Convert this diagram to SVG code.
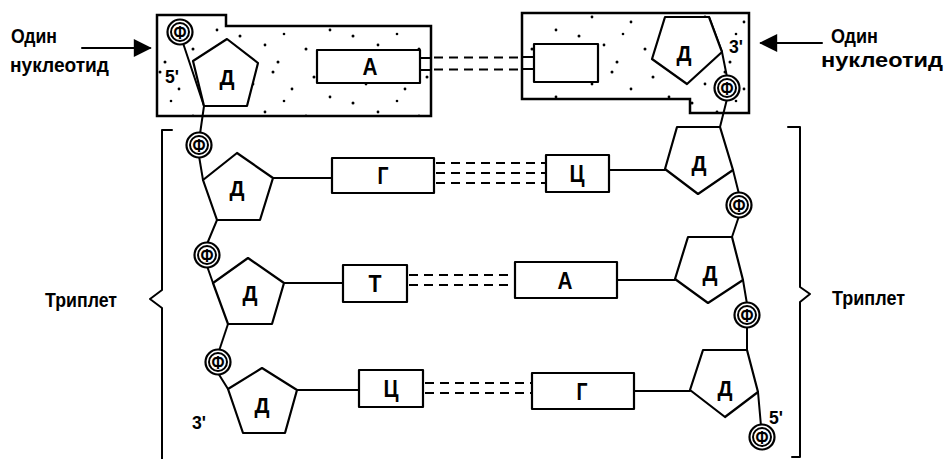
<svg xmlns="http://www.w3.org/2000/svg" width="946" height="459" viewBox="0 0 946 459">
<style>
.ln{fill:none;stroke:#000;stroke-width:2;stroke-linecap:round;stroke-linejoin:round}
.box{stroke:#000;stroke-width:2.5;stroke-linejoin:miter}
.shape{fill:#fff;stroke:#000;stroke-width:2.2;stroke-linejoin:round}
.hb{fill:none;stroke:#000;stroke-width:2.2;stroke-dasharray:9 6}
.t{font-family:"Liberation Sans",Arial,sans-serif;font-weight:bold;fill:#000}
.lbl{font-size:21px}
.d{font-size:22px;text-anchor:middle}
.big{font-size:23px;text-anchor:middle}
.ph{font-size:18px;text-anchor:middle}
.prime{font-size:19px}
</style>
<defs>
<pattern id="dots" width="113" height="67" patternUnits="userSpaceOnUse">
<rect width="113" height="67" fill="#fff"/>
<g fill="#000">
<circle cx="6" cy="8" r="1.5"/><circle cx="27" cy="17" r="1.4"/><circle cx="47" cy="5" r="1.5"/>
<circle cx="66" cy="22" r="1.4"/><circle cx="88" cy="10" r="1.5"/><circle cx="104" cy="30" r="1.4"/>
<circle cx="14" cy="36" r="1.5"/><circle cx="39" cy="45" r="1.4"/><circle cx="58" cy="34" r="1.3"/>
<circle cx="80" cy="49" r="1.5"/><circle cx="99" cy="58" r="1.4"/><circle cx="21" cy="60" r="1.3"/>
<circle cx="52" cy="62" r="1.5"/>
</g>
</pattern>
<marker id="arr" viewBox="0 0 10 10" refX="9" refY="5" markerWidth="24" markerHeight="18" markerUnits="userSpaceOnUse" orient="auto">
<path d="M0,0 L10,5 L0,10 Z" fill="#000"/>
</marker>
</defs>
<rect width="946" height="459" fill="#fff"/>

<g id="box-left"><path class="box" fill="url(#dots)" d="M157,15 H226 V26 H431 V116 H157 Z"/></g>
<g id="box-right"><path class="box" fill="url(#dots)" d="M522,13 H749 V113 H690 V99 H522 Z"/></g>

<g id="connectors">
<path class="ln" d="M183,43 L204,106 L200,134"/>
<path class="ln" d="M199,156 L203,180"/>
<path class="ln" d="M217,220 L207,244"/>
<path class="ln" d="M207,266 L213,283"/>
<path class="ln" d="M228,324 L219,351"/>
<path class="ln" d="M218,373 L228,389"/>
<path class="ln" d="M709,17 L722,52 L727,77"/>
<path class="ln" d="M727,99 L720,127"/>
<path class="ln" d="M733,170 L739,194"/>
<path class="ln" d="M739,216 L732,237"/>
<path class="ln" d="M743,280 L747,304"/>
<path class="ln" d="M747,326 L747,350"/>
<path class="ln" d="M758,392 L761,426"/>
<path class="ln" d="M273,178 H332"/><path class="ln" d="M609,170 H665"/>
<path class="ln" d="M284,283 H343"/><path class="ln" d="M617,280 H675"/>
<path class="ln" d="M297,390 H359"/><path class="ln" d="M634,391 H690"/>
<path class="ln" d="M420,58 H431 M420,70 H431"/>
<path class="ln" d="M522,57 H534 M522,69 H534"/>
<path class="hb" d="M434,57.5 H521 M434,69.5 H521"/>
<path class="hb" d="M436,163 H546 M436,173 H546 M436,183 H546"/>
<path class="hb" d="M409,275 H515 M409,285 H515"/>
<path class="hb" d="M425,383 H532 M425,393 H532"/>
<path class="ln" d="M82,48 H150" marker-end="url(#arr)"/>
<path class="ln" d="M822,43 H761" marker-end="url(#arr)"/>
<path class="ln" d="M172,130 H162 V290 L150,299 L162,308 V459"/>
<path class="ln" d="M788,127 H800 V287 L810,294 L800,302 V457 H792"/>
</g>

<g id="sugar-top-left"><polygon class="shape" points="227,39 258,63 247,106 204,106 193,61"/><text class="t d" x="227" y="85" textLength="15" lengthAdjust="spacingAndGlyphs">Д</text></g>
<g id="sugar-l1"><polygon class="shape" points="237,153 273,178 260,220 217,220 203,180"/><text class="t d" x="237" y="196" textLength="15" lengthAdjust="spacingAndGlyphs">Д</text></g>
<g id="sugar-l2"><polygon class="shape" points="248,258 284,283 272,324 228,324 213,283"/><text class="t d" x="250" y="301" textLength="15" lengthAdjust="spacingAndGlyphs">Д</text></g>
<g id="sugar-l3"><polygon class="shape" points="262,368 297,390 285,433 243,433 228,389"/><text class="t d" x="262" y="413" textLength="15" lengthAdjust="spacingAndGlyphs">Д</text></g>
<g id="sugar-top-right"><polygon class="shape" points="665,17 709,17 722,52 687,84 652,59"/><text class="t d" x="684" y="61" textLength="15" lengthAdjust="spacingAndGlyphs">Д</text></g>
<g id="sugar-r1"><polygon class="shape" points="677,127 720,127 733,170 698,194 665,169"/><text class="t d" x="699" y="171" textLength="15" lengthAdjust="spacingAndGlyphs">Д</text></g>
<g id="sugar-r2"><polygon class="shape" points="688,237 732,237 743,280 708,303 675,279"/><text class="t d" x="710" y="281" textLength="15" lengthAdjust="spacingAndGlyphs">Д</text></g>
<g id="sugar-r3"><polygon class="shape" points="703,350 747,350 758,392 725,417 690,390"/><text class="t d" x="725" y="396" textLength="15" lengthAdjust="spacingAndGlyphs">Д</text></g>

<g id="base-A-top"><rect class="shape" x="317" y="50" width="103" height="33"/><text class="t big" x="370" y="75" textLength="15" lengthAdjust="spacingAndGlyphs">А</text></g>
<g id="base-top-right"><rect class="shape" x="534" y="44" width="64" height="38"/></g>
<g id="base-G1"><rect class="shape" x="332" y="158" width="102" height="35"/><text class="t big" x="383" y="184" textLength="11" lengthAdjust="spacingAndGlyphs">Г</text></g>
<g id="base-C1"><rect class="shape" x="546" y="155" width="63" height="37"/><text class="t big" x="577" y="182" textLength="15" lengthAdjust="spacingAndGlyphs">Ц</text></g>
<g id="base-T2"><rect class="shape" x="343" y="265" width="64" height="37"/><text class="t big" x="375" y="292" textLength="13" lengthAdjust="spacingAndGlyphs">Т</text></g>
<g id="base-A2"><rect class="shape" x="515" y="262" width="102" height="36"/><text class="t big" x="565" y="289" textLength="15" lengthAdjust="spacingAndGlyphs">А</text></g>
<g id="base-C3"><rect class="shape" x="359" y="370" width="64" height="37"/><text class="t big" x="391" y="397" textLength="15" lengthAdjust="spacingAndGlyphs">Ц</text></g>
<g id="base-G3"><rect class="shape" x="532" y="373" width="102" height="36"/><text class="t big" x="582" y="400" textLength="11" lengthAdjust="spacingAndGlyphs">Г</text></g>

<g id="phos-l0"><circle class="shape" cx="180" cy="32" r="12.5"/><circle class="ln" cx="180" cy="32" r="9"/><text class="t ph" x="180" y="38.5" textLength="13" lengthAdjust="spacingAndGlyphs">Ф</text></g>
<g id="phos-l1"><circle class="shape" cx="199" cy="145" r="12.5"/><circle class="ln" cx="199" cy="145" r="9"/><text class="t ph" x="199" y="151.5" textLength="13" lengthAdjust="spacingAndGlyphs">Ф</text></g>
<g id="phos-l2"><circle class="shape" cx="207" cy="255" r="12.5"/><circle class="ln" cx="207" cy="255" r="9"/><text class="t ph" x="207" y="261.5" textLength="13" lengthAdjust="spacingAndGlyphs">Ф</text></g>
<g id="phos-l3"><circle class="shape" cx="218" cy="362" r="12.5"/><circle class="ln" cx="218" cy="362" r="9"/><text class="t ph" x="218" y="368.5" textLength="13" lengthAdjust="spacingAndGlyphs">Ф</text></g>
<g id="phos-r0"><circle class="shape" cx="727" cy="88" r="12.5"/><circle class="ln" cx="727" cy="88" r="9"/><text class="t ph" x="727" y="94.5" textLength="13" lengthAdjust="spacingAndGlyphs">Ф</text></g>
<g id="phos-r1"><circle class="shape" cx="739" cy="205" r="12.5"/><circle class="ln" cx="739" cy="205" r="9"/><text class="t ph" x="739" y="211.5" textLength="13" lengthAdjust="spacingAndGlyphs">Ф</text></g>
<g id="phos-r2"><circle class="shape" cx="747" cy="315" r="12.5"/><circle class="ln" cx="747" cy="315" r="9"/><text class="t ph" x="747" y="321.5" textLength="13" lengthAdjust="spacingAndGlyphs">Ф</text></g>
<g id="phos-r3"><circle class="shape" cx="762" cy="437" r="12.5"/><circle class="ln" cx="762" cy="437" r="9"/><text class="t ph" x="762" y="443.5" textLength="13" lengthAdjust="spacingAndGlyphs">Ф</text></g>

<g id="label-5-top"><text class="t prime" x="165" y="83" textLength="14" lengthAdjust="spacingAndGlyphs">5'</text></g>
<g id="label-3-top"><text class="t prime" x="729" y="53" textLength="14" lengthAdjust="spacingAndGlyphs">3'</text></g>
<g id="label-3-bottom"><text class="t prime" x="192" y="429" textLength="14" lengthAdjust="spacingAndGlyphs">3'</text></g>
<g id="label-5-bottom"><text class="t prime" x="769" y="424" textLength="14" lengthAdjust="spacingAndGlyphs">5'</text></g>

<g id="label-nucleotide-left"><text class="t lbl" x="11" y="43" textLength="46" lengthAdjust="spacingAndGlyphs">Один</text><text class="t lbl" x="10" y="72" textLength="99" lengthAdjust="spacingAndGlyphs">нуклеотид</text></g>
<g id="label-nucleotide-right"><text class="t lbl" x="831" y="43" textLength="47" lengthAdjust="spacingAndGlyphs">Один</text><text class="t lbl" x="821" y="67" textLength="122" lengthAdjust="spacingAndGlyphs">нуклеотид</text></g>
<g id="label-triplet-left"><text class="t lbl" x="45" y="307" textLength="72" lengthAdjust="spacingAndGlyphs">Триплет</text></g>
<g id="label-triplet-right"><text class="t lbl" x="832" y="305" textLength="73" lengthAdjust="spacingAndGlyphs">Триплет</text></g>
</svg>
